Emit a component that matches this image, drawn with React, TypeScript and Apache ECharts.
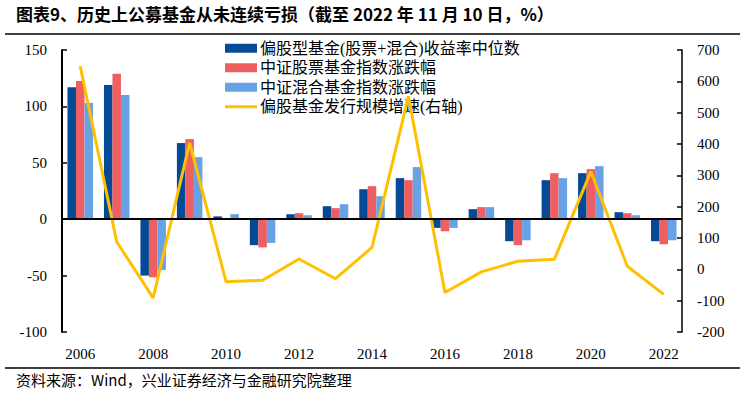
import React, { useEffect, useRef } from "react";
import * as echarts from "echarts";

const categories = ["2006","2007","2008","2009","2010","2011","2012","2013","2014","2015","2016","2017","2018","2019","2020","2021","2022"];
const fundMedian = [117, 119, -50, 67.5, 2.5, -23, 4.4, 11.5, 26.6, 36.4, -7.7, 8.9, -19.5, 34.6, 40.8, 6.2, -19.5];
const stockIndex = [122.5, 129, -51.5, 71, 0.5, -25, 5.3, 9.8, 29.3, 34.6, -10.7, 10.7, -23, 40.8, 44.4, 5.3, -22.2];
const mixedIndex = [103, 110, -45, 55, 4.5, -21, 3.5, 13.3, 20.4, 46.2, -7.7, 10.7, -18.7, 36.4, 47, 3.5, -18.7];
const issueGrowth = [648, 88, -91, 404, -40, -35, 33, -30, 70, 552, -74, -8, 26, 32, 312, 10, -80];

const names = [
  "偏股型基金(股票+混合)收益率中位数",
  "中证股票基金指数涨跌幅",
  "中证混合基金指数涨跌幅",
  "偏股基金发行规模增速(右轴)",
];

const title = "图表9、历史上公募基金从未连续亏损（截至 2022 年 11 月 10 日，%）";
const source = "资料来源：Wind，兴业证券经济与金融研究院整理";

const numFont = "Liberation Serif";
const cjkFont = "Noto Sans CJK SC";
const legendFont = "'Liberation Serif', 'Noto Sans CJK SC'";

export default function App() {
  const ref = useRef<HTMLDivElement>(null);
  useEffect(() => {
    if (!ref.current) return;
    const chart = echarts.init(ref.current, undefined, { renderer: "svg" });
    const barCommon = {
      type: "bar",
      barWidth: 8.5,
      barGap: "0%",
    };
    chart.setOption({
      animation: false,
      backgroundColor: "#fff",
      graphic: [
        {
          type: "text",
          left: 16,
          top: 5,
          style: { text: title, font: `bold 17px "${cjkFont}"`, fill: "#000" },
        },
        {
          type: "line",
          shape: { x1: 5, y1: 34, x2: 740, y2: 34 },
          style: { stroke: "#000", lineWidth: 1.5 },
        },
        {
          type: "line",
          shape: { x1: 5, y1: 368, x2: 740, y2: 368 },
          style: { stroke: "#000", lineWidth: 1.5 },
        },
        {
          type: "text",
          left: 16,
          top: 372,
          style: { text: source, font: `15px "${cjkFont}"`, fill: "#000" },
        },
      ],
      legend: {
        orient: "vertical",
        left: 225,
        top: 38.5,
        padding: 0,
        itemWidth: 32,
        itemHeight: 9,
        itemGap: 0,
        data: [
          { name: names[0], icon: "rect" },
          { name: names[1], icon: "rect" },
          { name: names[2], icon: "rect" },
          { name: names[3], icon: "path://M0,0 L32,0 L32,3 L0,3 Z" },
        ],
        textStyle: { fontFamily: legendFont, fontSize: 16, lineHeight: 19.5, color: "#000", padding: [0, 0, 0, -2] },
      },
      grid: { left: 62, right: 63, top: 50, bottom: 62, containLabel: false },
      xAxis: {
        type: "category",
        data: categories,
        axisLine: { show: false, onZero: false },
        axisTick: { show: false },
        axisLabel: { interval: 1, fontFamily: numFont, fontSize: 15, color: "#000", margin: 14 },
      },
      yAxis: [
        {
          type: "value",
          min: -100,
          max: 150,
          interval: 50,
          splitLine: { show: false },
          axisLine: { show: true, lineStyle: { color: "#000", width: 2 } },
          axisTick: { show: true, inside: true, length: 5, lineStyle: { color: "#000", width: 1.5 } },
          axisLabel: { fontFamily: numFont, fontSize: 15, color: "#000", margin: 15 },
        },
        {
          type: "value",
          min: -200,
          max: 700,
          interval: 100,
          position: "right",
          splitLine: { show: false },
          axisLine: { show: true, lineStyle: { color: "#000", width: 1.5 } },
          axisTick: { show: true, inside: true, length: 5, lineStyle: { color: "#000", width: 1.5 } },
          axisLabel: { fontFamily: numFont, fontSize: 15, color: "#000", margin: 15 },
        },
      ],
      series: [
        {
          ...barCommon,
          name: names[0],
          data: fundMedian,
          itemStyle: { color: "#044A96" },
          markLine: {
            silent: true,
            symbol: ["none", "none"],
            label: { show: false },
            lineStyle: { color: "#000", width: 2, type: "solid" },
            data: [{ yAxis: 0 }],
            z: 10,
          },
        },
        { ...barCommon, name: names[1], data: stockIndex, itemStyle: { color: "#EF5F61" } },
        { ...barCommon, name: names[2], data: mixedIndex, itemStyle: { color: "#68A2E4" } },
        {
          type: "line",
          name: names[3],
          yAxisIndex: 1,
          data: issueGrowth,
          symbol: "none",
          showSymbol: false,
          lineStyle: { color: "#FFC000", width: 3 },
          itemStyle: { color: "#FFC000" },
          z: 5,
        },
      ],
    });
    return () => chart.dispose();
  }, []);
  return <div ref={ref} style={{ width: 745, height: 394, position: "absolute", left: 0, top: 0 }} />;
}
